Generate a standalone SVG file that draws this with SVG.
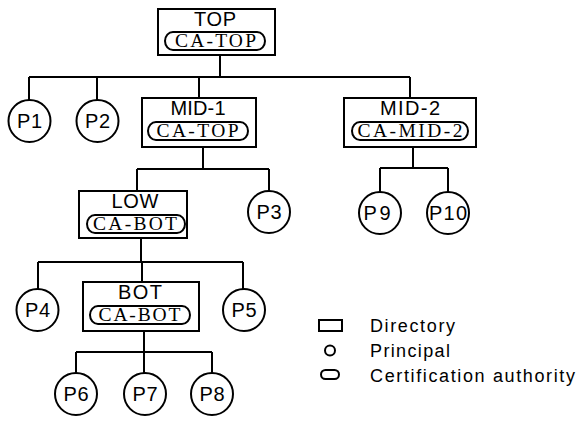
<svg xmlns="http://www.w3.org/2000/svg" width="576" height="424" viewBox="0 0 576 424">
<style>
.box{fill:none;stroke:#000;stroke-width:2}
.ca{fill:none;stroke:#000;stroke-width:2}
.pr{fill:#fff;stroke:#000;stroke-width:2}
.ln{fill:none;stroke:#000;stroke-width:2}
.lb{font-family:"Liberation Sans",Arial,sans-serif;font-size:20px;text-anchor:middle;fill:#000}
.cat{font-family:"Liberation Serif","Times New Roman",serif;font-size:19.5px;text-anchor:middle;fill:#000}
.lg{font-family:"Liberation Sans",Arial,sans-serif;font-size:18px;fill:#000}
</style>
<rect width="576" height="424" fill="#fff"/>
<g id="connectors" class="ln">
<path d="M220 55V77M29 77H410M29 77V100M97 77V100M199 77V98M410 77V98"/>
<path d="M203 147V169M137 169H269M137 169V191M269 169V191"/>
<path d="M141 238V262M38 262H243M38 262V289M142 262V282M243 262V289"/>
<path d="M144 331V352M76 352H212M76 352V373M144 352V373M212 352V373"/>
<path d="M413 147V168M380 168H448M380 168V192M448 168V192"/>
</g>
<g id="TOP">
<rect class="box" x="158" y="9" width="117" height="46"/>
<text class="lb" x="215" y="26" textLength="42" lengthAdjust="spacing">TOP</text>
<rect class="ca" x="165" y="32" width="100" height="18" rx="8" ry="9"/>
<text class="cat" x="215.5" y="47" textLength="81" lengthAdjust="spacing">CA-TOP</text>
</g>
<g id="MID-1">
<rect class="box" x="142" y="98" width="114" height="49"/>
<text class="lb" x="198" y="115" textLength="55" lengthAdjust="spacing">MID-1</text>
<rect class="ca" x="148" y="122" width="100" height="18" rx="8" ry="9"/>
<text class="cat" x="197.5" y="137" textLength="82" lengthAdjust="spacing">CA-TOP</text>
</g>
<g id="MID-2">
<rect class="box" x="344" y="98" width="132" height="49"/>
<text class="lb" x="410" y="115" textLength="60" lengthAdjust="spacing">MID-2</text>
<rect class="ca" x="352" y="122" width="116" height="18" rx="8" ry="9"/>
<text class="cat" x="410" y="137" textLength="105" lengthAdjust="spacing">CA-MID-2</text>
</g>
<g id="LOW">
<rect class="box" x="79" y="191" width="108" height="47"/>
<text class="lb" x="135" y="208" textLength="47" lengthAdjust="spacing">LOW</text>
<rect class="ca" x="87" y="215" width="98" height="18" rx="8" ry="9"/>
<text class="cat" x="135" y="230" textLength="84" lengthAdjust="spacing">CA-BOT</text>
</g>
<g id="BOT">
<rect class="box" x="83" y="282" width="116" height="49"/>
<text class="lb" x="140" y="299" textLength="44" lengthAdjust="spacing">BOT</text>
<rect class="ca" x="90" y="306" width="100" height="18" rx="8" ry="9"/>
<text class="cat" x="139.5" y="321" textLength="82" lengthAdjust="spacing">CA-BOT</text>
</g>
<g id="P1"><circle class="pr" cx="29.5" cy="121" r="21"/><text class="lb" x="29.5" y="128" textLength="25" lengthAdjust="spacing">P1</text></g>
<g id="P2"><circle class="pr" cx="97.5" cy="121" r="21"/><text class="lb" x="97.5" y="128" textLength="25" lengthAdjust="spacing">P2</text></g>
<g id="P3"><circle class="pr" cx="269" cy="212" r="21"/><text class="lb" x="269" y="219" textLength="25" lengthAdjust="spacing">P3</text></g>
<g id="P4"><circle class="pr" cx="37.5" cy="310" r="21"/><text class="lb" x="37.5" y="317" textLength="25" lengthAdjust="spacing">P4</text></g>
<g id="P5"><circle class="pr" cx="244" cy="310" r="21"/><text class="lb" x="244" y="317" textLength="25" lengthAdjust="spacing">P5</text></g>
<g id="P6"><circle class="pr" cx="76" cy="394" r="21"/><text class="lb" x="76" y="401" textLength="25" lengthAdjust="spacing">P6</text></g>
<g id="P7"><circle class="pr" cx="145" cy="394" r="21"/><text class="lb" x="145" y="401" textLength="25" lengthAdjust="spacing">P7</text></g>
<g id="P8"><circle class="pr" cx="212" cy="394" r="21"/><text class="lb" x="212" y="401" textLength="25" lengthAdjust="spacing">P8</text></g>
<g id="P9"><circle class="pr" cx="380" cy="213" r="21"/><text class="lb" x="377" y="220" textLength="27" lengthAdjust="spacing">P9</text></g>
<g id="P10"><circle class="pr" cx="448" cy="213" r="21"/><text class="lb" x="448" y="220" textLength="38" lengthAdjust="spacing">P10</text></g>
<g id="legend">
<rect class="box" x="319" y="320" width="23" height="11"/>
<circle class="pr" cx="330" cy="350.5" r="5"/>
<rect class="ca" x="321" y="370" width="18" height="9" rx="4.5"/>
<text class="lg" x="370" y="332" textLength="85" lengthAdjust="spacing">Directory</text>
<text class="lg" x="370" y="357" textLength="80" lengthAdjust="spacing">Principal</text>
<text class="lg" x="370" y="382" textLength="205" lengthAdjust="spacing">Certification authority</text>
</g>
</svg>
